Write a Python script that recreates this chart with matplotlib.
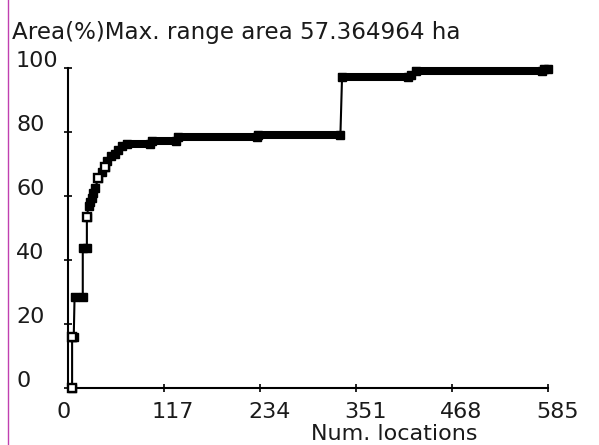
import matplotlib
matplotlib.use('Agg')
import matplotlib.pyplot as plt
from matplotlib.lines import Line2D
from matplotlib.transforms import blended_transform_factory, offset_copy

# cumulative range area (%) against number of locations
locations = [5, 5, 7, 8, 18, 18, 23, 23, 25, 27, 29, 31, 33, 37, 42, 45, 48, 52, 57,
             61, 66, 72, 100, 102, 132, 134, 230, 232, 332, 334, 414, 418, 424, 578, 580, 585]
area = [0, 16, 16, 28.5, 28.5, 43.8, 43.8, 53.4, 57, 58, 59.5, 61, 62.5, 65.5, 67.5, 69, 71, 72.5, 73.2,
        74.5, 75.5, 76.3, 76.3, 77.2, 77.2, 78.5, 78.5, 79.2, 79.2, 97.2, 97.2, 97.8, 99.0, 99.0, 99.6, 99.6]
hollow_x = [5, 5, 23, 37, 45]
hollow_y = [0, 16, 53.4, 65.5, 69]

x_ticks = [0, 117, 234, 351, 468, 585]
y_ticks = [0, 20, 40, 60, 80, 100]

title = 'Area(%)Max. range area 57.364964 ha'
xlabel = 'Num. locations'

W, H = 599, 445
fs = 16
tc = '#1a1a1a'

fig = plt.figure(figsize=(W / 100, H / 100), dpi=100)
ax = fig.add_axes([68 / W, 1 - 388 / H, 480 / W, 320 / H])
ax.set_xlim(0, 585)
ax.set_ylim(0, 100)

# thin connecting line
ax.plot(locations, area, color='k', lw=1.5, clip_on=False, zorder=3)
# thick bands where the value stays the same
for i in range(len(locations) - 1):
    if area[i] == area[i + 1]:
        ax.plot([locations[i], locations[i + 1]], [area[i], area[i]], color='k',
                lw=5.8, solid_capstyle='projecting', clip_on=False, zorder=3)
ax.plot(locations, area, 's', color='k', ms=5.3, clip_on=False, zorder=4)
ax.plot(hollow_x, hollow_y, 's', ms=5.3, mfc='white', mec='k', mew=1.7, clip_on=False, zorder=5)

for s in ['top', 'right']:
    ax.spines[s].set_visible(False)
for s in ['left', 'bottom']:
    ax.spines[s].set_linewidth(1.5)
    ax.spines[s].set_color('k')

ax.set_xticks(x_ticks)
ax.set_yticks(y_ticks)
ax.set_xticklabels([])
ax.set_yticklabels([])
ax.tick_params(direction='inout', length=6, width=1.2, color='k')

xt = offset_copy(blended_transform_factory(ax.transData, fig.transFigure), fig=fig, x=-12, y=0, units='dots')
for v in x_ticks:
    ax.text(v, 1 - 418 / H, str(v), transform=xt, ha='left', va='baseline', fontsize=fs, color=tc)

yt = offset_copy(blended_transform_factory(fig.transFigure, ax.transData), fig=fig, x=0, y=1, units='dots')
for v in y_ticks:
    ax.text(16 / W, v, str(v), transform=yt, ha='left', va='baseline', fontsize=fs, color=tc)

fig.text(12 / W, 1 - 39 / H, title, ha='left', va='baseline', fontsize=16.6, color=tc)
fig.text(394 / W, 1 - 440 / H, xlabel, ha='center', va='baseline', fontsize=fs, color=tc)

fig.add_artist(Line2D([8 / W, 8 / W], [0, 1], color='#c040b0', lw=1, transform=fig.transFigure))

fig.savefig('out.png', dpi=100)
